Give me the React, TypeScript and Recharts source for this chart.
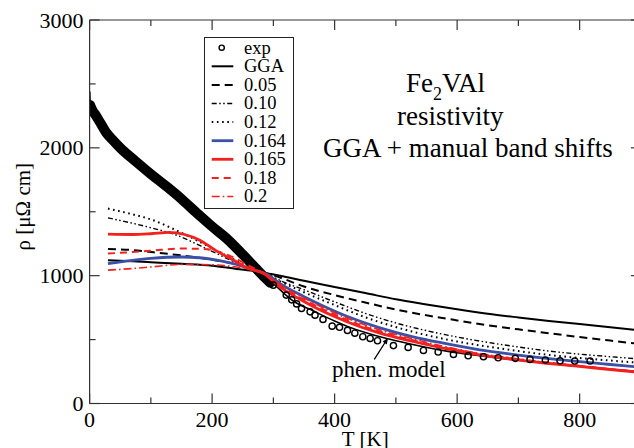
import React from 'react';
import { ComposedChart, Line, Scatter, XAxis, YAxis, Legend } from 'recharts';

// ---------- data (T [K], rho [µΩ cm]) ----------
const expBand: number[][] = [[0.8,2335],[5,2290],[10,2255],[17,2200],[27,2120],[38,2060],[50,2000],[75,1895],[100,1795],[125,1700],[150,1600],[175,1490],[200,1385],[225,1285],[250,1165],[270,1065],[285,990],[295,945]];
const expSpike: number[][] = [[0.5,2440],[1.2,2340]];
const expPoints: number[][] = [[300,926],[321,848],[330,811],[338,779],[346,744],[360,717],[368,691],[381,658],[396,605],[408,596],[421,572],[433,550],[446,522],[458,509],[470,491],[496,453],[520,439],[545,415],[569,403],[594,384],[618,373],[643,366],[667,358],[695,353],[719,345],[744,340],[768,334],[792,332],[817,332]];
const gga: number[][] = [[30,1120],[70,1112],[100,1105],[150,1093],[200,1078],[240,1052],[270,1035],[290,1018],[311,1000],[350,960],[400,912],[450,864],[500,815],[550,775],[600,737],[650,702],[700,673],[750,646],[800,621],[850,597],[900,572]];
const s005: number[][] = [[30,1208],[70,1200],[100,1185],[150,1158],[200,1125],[240,1088],[270,1050],[290,1018],[311,985],[350,915],[400,848],[450,790],[500,735],[550,690],[600,650],[650,612],[700,580],[750,550],[800,520],[850,492],[900,465]];
const s010: number[][] = [[30,1452],[70,1410],[100,1375],[140,1320],[200,1190],[240,1100],[265,1052],[290,1012],[311,962],[350,890],[400,795],[450,705],[500,630],[550,570],[600,520],[650,478],[700,442],[750,410],[800,386],[850,366],[900,348]];
const s012: number[][] = [[30,1525],[70,1480],[100,1440],[150,1335],[200,1215],[240,1115],[265,1050],[290,1005],[311,955],[350,870],[400,770],[450,675],[500,598],[550,535],[600,485],[650,445],[700,410],[750,380],[800,356],[850,336],[900,318]];
const s0164: number[][] = [[30,1095],[70,1120],[100,1135],[150,1146],[180,1140],[210,1120],[240,1088],[265,1050],[290,1010],[311,938],[340,860],[365,800],[420,682],[474,592],[528,522],[580,470],[637,420],[690,385],[746,353],[800,327],[850,305],[900,283]];
const s0165: number[][] = [[30,1325],[70,1322],[100,1328],[130,1338],[155,1322],[180,1278],[205,1200],[235,1120],[260,1055],[285,1015],[311,910],[340,825],[365,758],[420,640],[474,550],[528,485],[583,427],[637,380],[690,345],[746,315],[800,290],[850,266],[900,243]];
const s018: number[][] = [[30,1173],[70,1185],[100,1195],[150,1212],[180,1210],[205,1195],[235,1142],[260,1078],[285,1018],[311,922],[365,775],[420,655],[474,562],[528,495],[583,435],[637,388],[690,352],[746,320],[800,294],[850,268],[900,246]];
const s020: number[][] = [[30,1043],[70,1056],[100,1068],[150,1088],[200,1085],[240,1068],[265,1050],[285,1020],[311,930],[365,788],[420,668],[474,575],[528,505],[583,442],[637,392],[690,355],[746,322],[800,295],[850,269],[900,246]];
const phen: number[][] = [[270,1060],[285,990],[300,935],[333,800],[365,725],[400,645],[420,605],[450,555],[485,509],[520,470],[583,410],[640,372],[692,342],[750,313],[801,290],[850,268],[900,246]];

const xTicks = [0, 100, 200, 300, 400, 500, 600, 700, 800, 900];
const yTicks = [0, 500, 1000, 1500, 2000, 2500, 3000];

const legendLabels = ['exp', 'GGA', '0.05', '0.10', '0.12', '0.164', '0.165', '0.18', '0.2'];

const toRows = (arr: number[][]) => arr.map(([T, r]) => ({ T, r }));

const FONT = '"Liberation Serif", "Times New Roman", Times, serif';
const AX = '#333';
const BLUE = '#3b50a6';
const RED = '#f2201e';
const tStyle = { fontFamily: FONT };

const styles = [
  { stroke: '#000', w: 2, dash: undefined as string | undefined },
  { stroke: '#000', w: 2, dash: '8 5' },
  { stroke: '#000', w: 1.4, dash: '5 2.5 1.5 2.5 1.5 2.5' },
  { stroke: '#000', w: 2, dash: '1.6 3.6' },
  { stroke: BLUE, w: 2.8, dash: undefined },
  { stroke: RED, w: 2.8, dash: undefined },
  { stroke: RED, w: 2, dash: '7 5' },
  { stroke: RED, w: 1.6, dash: '8 3 1.6 3' },
];

function BottomTick(props: any) {
  const { x, y, payload } = props;
  const v = payload.value;
  const major = v % 200 === 0;
  return (
    <g>
      <line x1={x} y1={y} x2={x} y2={y - (major ? 10 : 6)} stroke={AX} strokeWidth={1.2} />
      {major && (
        <text x={x} y={y + 23.5} textAnchor="middle" fontSize={22} style={tStyle} fill="#000">{v}</text>
      )}
    </g>
  );
}
function TopTick(props: any) {
  const { x, y, payload } = props;
  const major = payload.value % 200 === 0;
  return <line x1={x} y1={y} x2={x} y2={y + (major ? 10 : 6)} stroke={AX} strokeWidth={1.2} />;
}
function LeftTick(props: any) {
  const { x, y, payload } = props;
  const v = payload.value;
  const major = v % 1000 === 0;
  return (
    <g>
      <line x1={x} y1={y} x2={x + (major ? 10 : 6)} y2={y} stroke={AX} strokeWidth={1.2} />
      {major && (
        <text x={x - 6} y={y + 7.5} textAnchor="end" fontSize={22} style={tStyle} fill="#000">{v}</text>
      )}
    </g>
  );
}
function RightTick(props: any) {
  const { x, y, payload } = props;
  const major = payload.value % 1000 === 0;
  return <line x1={x} y1={y} x2={x - (major ? 10 : 6)} y2={y} stroke={AX} strokeWidth={1.2} />;
}

function LegendBox() {
  return (
    <svg width={90} height={172} style={{ display: 'block' }}>
      <rect x={0.5} y={0.5} width={89} height={171} fill="#fff" stroke="#222" strokeWidth={1} />
      {legendLabels.map((lab, i) => {
        const cy = 10.7 + i * 18.6;
        const st = i > 0 ? styles[i - 1] : null;
        return (
          <g key={lab}>
            {i === 0 ? (
              <circle cx={17.7} cy={cy} r={2.6} fill="none" stroke="#000" strokeWidth={1.4} />
            ) : (
              <line x1={7.7} y1={cy} x2={29.3} y2={cy} stroke={st!.stroke} strokeWidth={st!.w} strokeDasharray={st!.dash} />
            )}
            <text x={40} y={cy + 5.8} fontSize={18.5} style={tStyle} fill="#000">{lab}</text>
          </g>
        );
      })}
    </svg>
  );
}

const series = [gga, s005, s010, s012, s0164, s0165, s018, s020];

export default function App() {
  return (
    <div style={{ position: 'absolute', left: 0, top: 0, width: 634, height: 448, overflow: 'hidden', background: '#fff' }}>
      <ComposedChart width={650} height={448} margin={{ top: 19, right: 8.1, bottom: 0, left: 0 }}>
        <XAxis xAxisId={0} dataKey="T" type="number" domain={[0, 900]} ticks={xTicks} allowDataOverflow
          height={44.5} tickSize={0} tickMargin={0} tickLine={false} tick={<BottomTick />} interval={0}
          axisLine={{ stroke: AX, strokeWidth: 1.2 }}
          label={{ content: (p: any) => {
            const vb = p.viewBox || {};
            return <text x={vb.x + vb.width / 2} y={vb.y + 42.5} textAnchor="middle" fontSize={21} style={tStyle} fill="#000">T [K]</text>;
          } }} />
        <XAxis xAxisId="top" orientation="top" dataKey="T" type="number" domain={[0, 900]} ticks={xTicks} allowDataOverflow
          height={1} tickSize={0} tickMargin={0} tickLine={false} tick={<TopTick />} interval={0}
          axisLine={{ stroke: AX, strokeWidth: 1.2 }} />
        <YAxis yAxisId={0} type="number" domain={[0, 3000]} ticks={yTicks} allowDataOverflow
          width={89.6} tickSize={0} tickMargin={0} tickLine={false} tick={<LeftTick />} interval={0}
          axisLine={{ stroke: AX, strokeWidth: 1.2 }}
          label={{ content: (p: any) => {
            const vb = p.viewBox || {};
            const cx = vb.x + vb.width - 67;
            const cy = 206.7;
            return <text x={cx} y={cy} transform={`rotate(-90 ${cx} ${cy})`} textAnchor="middle" dominantBaseline="central" fontSize={21} style={tStyle} fill="#000">ρ [μΩ cm]</text>;
          } }} />
        <YAxis yAxisId="right" orientation="right" type="number" domain={[0, 3000]} ticks={yTicks} allowDataOverflow
          width={1} tickSize={0} tickMargin={0} tickLine={false} tick={<RightTick />} interval={0}
          axisLine={{ stroke: AX, strokeWidth: 1.2 }} />

        <Line data={toRows(expBand)} dataKey="r" type="monotone" stroke="#000" strokeWidth={10}
          strokeLinecap="round" strokeLinejoin="round" dot={false} isAnimationActive={false} legendType="none" />
        <Line data={toRows(expSpike)} dataKey="r" type="linear" stroke="#000" strokeWidth={1.3}
          dot={false} isAnimationActive={false} legendType="none" />
        <Line data={toRows(phen)} dataKey="r" type="monotone" stroke="#000" strokeWidth={1.6}
          dot={false} isAnimationActive={false} legendType="none" />
        {series.map((s, i) => (
          <Line key={i} data={toRows(s)} dataKey="r" type="monotone" stroke={styles[i].stroke}
            strokeWidth={styles[i].w} strokeDasharray={styles[i].dash} dot={false}
            isAnimationActive={false} legendType="none" />
        ))}
        <Scatter data={toRows(expPoints)} dataKey="r" isAnimationActive={false} legendType="none"
          shape={(p: any) => <circle cx={p.cx} cy={p.cy} r={3.1} fill="none" stroke="#000" strokeWidth={1.4} />} />
        <Legend layout="vertical" align="center" verticalAlign="middle"
          wrapperStyle={{ position: 'absolute', left: 204, top: 37, width: 90, height: 172 }}
          content={() => <LegendBox />} />
      </ComposedChart>
      <svg width={634} height={448} style={{ position: 'absolute', left: 0, top: 0, pointerEvents: 'none' }}>
        <text x={406} y={92} fontSize={27} style={tStyle} fill="#000">Fe<tspan dy={8} fontSize={18}>2</tspan><tspan dy={-8}>VAl</tspan></text>
        <text x={397} y={125} fontSize={27} style={tStyle} fill="#000">resistivity</text>
        <text x={323} y={157} fontSize={27} style={tStyle} fill="#000">GGA + manual band shifts</text>
        <text x={332} y={377} fontSize={23} style={tStyle} fill="#000">phen. model</text>
        <line x1={374.3} y1={359.3} x2={386} y2={341} stroke="#000" strokeWidth={1.3} />
        <polygon points="388,338 386.8,344.4 382.6,341.6" fill="#000" />
      </svg>
    </div>
  );
}
